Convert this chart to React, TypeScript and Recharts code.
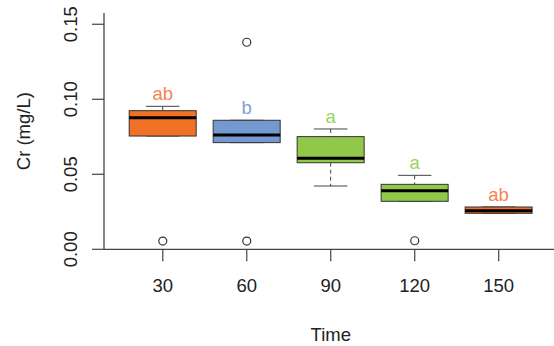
import React from 'react';
import { ComposedChart, Bar, Scatter, XAxis, YAxis } from 'recharts';

const times = ['30', '60', '90', '120', '150'];
const whiskerLow = [0.0755, 0.0711, 0.0422, 0.032, 0.024];
const q1 = [0.0755, 0.0711, 0.0577, 0.032, 0.024];
const median = [0.0877, 0.0762, 0.0607, 0.0391, 0.0257];
const q3 = [0.0924, 0.086, 0.0751, 0.0433, 0.0282];
const whiskerHigh = [0.0953, 0.086, 0.0802, 0.0493, 0.0282];
const outlierA: (number | null)[] = [0.0055, 0.138, null, 0.0057, null];
const outlierB: (number | null)[] = [null, 0.0055, null, null, null];
const letters = ['ab', 'b', 'a', 'a', 'ab'];
const boxColors = ['#F07227', '#7399D0', '#91C84A', '#91C84A', '#F07227'];
const letterColors = ['#F5844F', '#7FA0DA', '#9ED25E', '#9ED25E', '#F5844F'];
const yTicks = [0, 0.05, 0.1, 0.15];
const yDomain = [0, 0.1575];

const data = times.map((t, i) => ({
  time: t,
  range: [whiskerLow[i], whiskerHigh[i]],
  lo: whiskerLow[i],
  hi: whiskerHigh[i],
  q1: q1[i],
  median: median[i],
  q3: q3[i],
  outA: outlierA[i],
  outB: outlierB[i],
  letter: letters[i],
  fill: boxColors[i],
  letterFill: letterColors[i],
}));

const FONT = '"Liberation Sans", Arial, sans-serif';
const FS = 18.5;
const INK = '#222';
const LINE = '#444';

const BoxShape = (props: any) => {
  const { x, y, width, height, payload } = props;
  if (x == null || y == null || !payload) return null;
  const top = Math.min(y, y + height);
  const bot = Math.max(y, y + height);
  const span = bot - top;
  const px = (v: number) => top + (span * (payload.hi - v)) / (payload.hi - payload.lo);
  const cx = x + width / 2;
  const capHalf = width / 4;
  const yQ1 = px(payload.q1);
  const yQ3 = px(payload.q3);
  const yMed = px(payload.median);
  const yHi = px(payload.hi);
  const yLo = px(payload.lo);
  return (
    <g>
      <line x1={cx} x2={cx} y1={yHi} y2={yQ3} stroke={LINE} strokeWidth={1} strokeDasharray="4 3" />
      <line x1={cx} x2={cx} y1={yQ1} y2={yLo} stroke={LINE} strokeWidth={1} strokeDasharray="4 3" />
      <line x1={cx - capHalf} x2={cx + capHalf} y1={yHi} y2={yHi} stroke={LINE} strokeWidth={1} />
      <line x1={cx - capHalf} x2={cx + capHalf} y1={yLo} y2={yLo} stroke={LINE} strokeWidth={1} />
      <rect x={x} y={yQ3} width={width} height={Math.max(yQ1 - yQ3, 0)} fill={payload.fill} stroke="#333" strokeWidth={1} />
      <line x1={x} x2={x + width} y1={yMed} y2={yMed} stroke="#000" strokeWidth={3} />
      <text x={cx} y={yHi - 6} textAnchor="middle" fontFamily={FONT} fontSize={FS} fill={payload.letterFill}>
        {payload.letter}
      </text>
    </g>
  );
};

const Outlier = (props: any) => {
  const { cx, cy } = props;
  if (cx == null || cy == null || isNaN(cx) || isNaN(cy)) return null;
  return <circle cx={cx} cy={cy} r={4} fill="none" stroke="#333" strokeWidth={1.2} />;
};

const YTick = (props: any) => {
  const { x, y, payload } = props;
  const bx = x - 13.4;
  return (
    <text x={bx} y={y} transform={`rotate(-90, ${bx}, ${y})`} textAnchor="middle" fontFamily={FONT} fontSize={FS} fill={INK}>
      {Number(payload.value).toFixed(2)}
    </text>
  );
};

const YLabel = (props: any) => {
  const vb = props.viewBox || {};
  const bx = vb.x - 14.4;
  const cy = vb.y + vb.height / 2;
  return (
    <text x={bx} y={cy} transform={`rotate(-90, ${bx}, ${cy})`} textAnchor="middle" fontFamily={FONT} fontSize={FS} fill={INK}>
      Cr (mg/L)
    </text>
  );
};

const XLabel = (props: any) => {
  const vb = props.viewBox || {};
  return (
    <text x={vb.x + vb.width / 2} y={vb.y + 91.8} textAnchor="middle" fontFamily={FONT} fontSize={FS} fill={INK}>
      Time
    </text>
  );
};

export default function App() {
  return (
    <div style={{ position: 'absolute', left: 0, top: 0, width: 554, height: 346, overflow: 'hidden', background: '#fff' }}>
      <ComposedChart
        width={558}
        height={346}
        data={data}
        margin={{ top: 13, right: 0.5, bottom: 6.7, left: 44 }}
        barCategoryGap="10%"
      >
        <XAxis
          xAxisId="top"
          orientation="top"
          dataKey="time"
          height={0}
          tick={false}
          tickLine={false}
          axisLine={{ stroke: LINE, strokeWidth: 1.3 }}
          padding={{ left: 16.8, right: 16.8 }}
        />
        <XAxis
          dataKey="time"
          height={90}
          tickSize={12}
          tickMargin={18}
          tickLine={{ stroke: LINE, strokeWidth: 1.2 }}
          axisLine={{ stroke: LINE, strokeWidth: 1.3 }}
          tick={{ fontFamily: FONT, fontSize: FS, fill: INK }}
          padding={{ left: 16.8, right: 16.8 }}
          label={<XLabel />}
        />
        <YAxis
          type="number"
          domain={yDomain}
          ticks={yTicks}
          allowDataOverflow
          width={60}
          tickSize={12}
          tickLine={{ stroke: LINE, strokeWidth: 1.2 }}
          axisLine={{ stroke: LINE, strokeWidth: 1.3 }}
          tick={<YTick />}
          label={<YLabel />}
        />
        <Bar dataKey="range" shape={<BoxShape />} isAnimationActive={false} />
        <Scatter dataKey="outA" shape={<Outlier />} isAnimationActive={false} />
        <Scatter dataKey="outB" shape={<Outlier />} isAnimationActive={false} />
      </ComposedChart>
    </div>
  );
}
